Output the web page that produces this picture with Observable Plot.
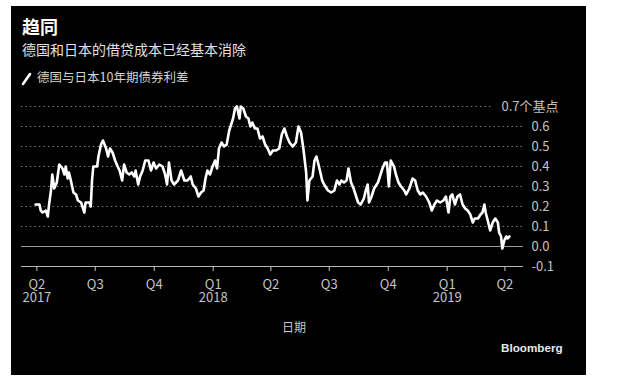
<!DOCTYPE html>
<html><head><meta charset="utf-8">
<script src="https://cdn.jsdelivr.net/npm/d3@7"></script>
<script src="https://cdn.jsdelivr.net/npm/@observablehq/plot@0.6"></script>
<style>
html,body{margin:0;padding:0;background:#fff;width:620px;height:388px;overflow:hidden;font-family:"Noto Sans CJK SC","Noto Sans",sans-serif;}
#panel{position:absolute;left:11px;top:6px;width:575px;height:369px;background:#000;}
.t{position:absolute;white-space:nowrap;line-height:1;}
#title{left:22px;top:17px;font-size:18px;font-weight:700;color:#fff;}
#subtitle{left:22px;top:42px;font-size:14px;color:#e2e2e2;}
#legend{left:37px;top:71px;font-size:12.5px;color:#d4d4d4;}
#slash{position:absolute;left:21px;top:72px;}
#xlabel{left:282px;top:321px;font-size:12px;color:#c8c8c8;}
#brand{left:501px;top:342px;font-family:"Liberation Sans",Arial,sans-serif;font-weight:700;font-size:11.7px;color:#e8e8e8;}
#chart{position:absolute;left:11px;top:96px;}
</style>
</head><body>
<div id="panel"></div>
<div class="t" id="title">趋同</div>
<div class="t" id="subtitle">德国和日本的借贷成本已经基本消除</div>
<svg id="slash" width="12" height="14"><line x1="2" y1="12" x2="9" y2="2" stroke="#fff" stroke-width="2.6" stroke-linecap="round"/></svg>
<div class="t" id="legend">德国与日本10年期债券利差</div>
<div id="chart"></div>
<div class="t" id="xlabel">日期</div>
<div class="t" id="brand">Bloomberg</div>
<script>
const dates = [
"2017-03-30","2017-04-05","2017-04-07","2017-04-10","2017-04-15","2017-04-18","2017-04-20","2017-04-23","2017-04-25","2017-04-28",
"2017-05-02","2017-05-06","2017-05-11","2017-05-14","2017-05-16","2017-05-19","2017-05-21","2017-05-24","2017-05-28","2017-06-01",
"2017-06-04","2017-06-09","2017-06-11","2017-06-14","2017-06-16","2017-06-22","2017-06-24","2017-06-26","2017-06-28","2017-07-04",
"2017-07-06","2017-07-10","2017-07-13","2017-07-18","2017-07-21","2017-07-24","2017-07-28","2017-08-01","2017-08-05","2017-08-08",
"2017-08-12","2017-08-15","2017-08-19","2017-08-23","2017-08-27","2017-08-31","2017-09-02","2017-09-06","2017-09-09","2017-09-13",
"2017-09-17","2017-09-22","2017-09-26","2017-09-30","2017-10-04","2017-10-09","2017-10-14","2017-10-18","2017-10-21","2017-10-24",
"2017-10-28","2017-11-01","2017-11-07","2017-11-12","2017-11-17","2017-11-22","2017-11-27","2017-11-30","2017-12-05","2017-12-09",
"2017-12-13","2017-12-17","2017-12-20","2017-12-23","2017-12-27","2017-12-31","2018-01-04","2018-01-07","2018-01-10","2018-01-14",
"2018-01-18","2018-01-22","2018-01-26","2018-01-29","2018-02-01","2018-02-04","2018-02-07","2018-02-11","2018-02-13","2018-02-17",
"2018-02-21","2018-02-25","2018-02-28","2018-03-03","2018-03-07","2018-03-11","2018-03-15","2018-03-19","2018-03-23","2018-03-27",
"2018-03-31","2018-04-04","2018-04-09","2018-04-14","2018-04-18","2018-04-22","2018-04-26","2018-04-30","2018-05-05","2018-05-10",
"2018-05-14","2018-05-18","2018-05-22","2018-05-26","2018-05-28","2018-05-31","2018-06-05","2018-06-08","2018-06-11","2018-06-15",
"2018-06-20","2018-06-23","2018-06-29","2018-07-04","2018-07-09","2018-07-13","2018-07-17","2018-07-20","2018-07-24","2018-07-28",
"2018-07-31","2018-08-04","2018-08-08","2018-08-12","2018-08-15","2018-08-19","2018-08-24","2018-08-27","2018-08-30","2018-09-01",
"2018-09-05","2018-09-09","2018-09-15","2018-09-19","2018-09-22","2018-09-26","2018-09-29","2018-10-02","2018-10-05","2018-10-10",
"2018-10-13","2018-10-17","2018-10-21","2018-10-26","2018-10-29","2018-11-03","2018-11-08","2018-11-12","2018-11-16","2018-11-20",
"2018-11-24","2018-11-29","2018-12-04","2018-12-08","2018-12-12","2018-12-16","2018-12-21","2018-12-26","2018-12-30","2019-01-03",
"2019-01-06","2019-01-09","2019-01-13","2019-01-17","2019-01-21","2019-01-25","2019-01-29","2019-02-02","2019-02-06","2019-02-10",
"2019-02-13","2019-02-18","2019-02-22","2019-02-25","2019-02-28","2019-03-02","2019-03-06","2019-03-09","2019-03-13","2019-03-17",
"2019-03-21","2019-03-23","2019-03-26","2019-03-28","2019-03-31","2019-04-03","2019-04-05","2019-04-08"
];
const spread = [
0.21,0.21,0.18,0.17,0.18,0.15,0.21,0.28,0.36,0.29,
0.32,0.41,0.39,0.36,0.40,0.34,0.37,0.33,0.27,0.26,
0.23,0.22,0.20,0.17,0.22,0.22,0.20,0.33,0.40,0.40,
0.45,0.51,0.53,0.49,0.45,0.49,0.47,0.43,0.40,0.38,
0.33,0.41,0.37,0.36,0.37,0.35,0.38,0.31,0.35,0.38,
0.43,0.43,0.38,0.42,0.39,0.41,0.40,0.36,0.31,0.42,
0.33,0.31,0.33,0.38,0.33,0.33,0.35,0.31,0.29,0.25,
0.27,0.28,0.34,0.38,0.36,0.40,0.43,0.39,0.49,0.52,
0.50,0.51,0.58,0.61,0.64,0.69,0.70,0.64,0.70,0.69,
0.65,0.64,0.60,0.62,0.59,0.59,0.54,0.55,0.51,0.49,
0.46,0.48,0.48,0.49,0.56,0.59,0.55,0.52,0.50,0.52,
0.60,0.57,0.48,0.37,0.23,0.33,0.35,0.43,0.45,0.40,
0.33,0.31,0.28,0.27,0.28,0.33,0.31,0.33,0.32,0.33,
0.39,0.32,0.29,0.25,0.22,0.21,0.24,0.28,0.31,0.22,
0.25,0.29,0.32,0.36,0.39,0.42,0.42,0.30,0.43,0.40,
0.36,0.32,0.30,0.28,0.26,0.29,0.34,0.33,0.28,0.26,
0.27,0.25,0.22,0.18,0.21,0.23,0.22,0.23,0.25,0.17,
0.25,0.26,0.21,0.25,0.26,0.21,0.19,0.18,0.16,0.12,
0.14,0.14,0.16,0.17,0.21,0.17,0.12,0.08,0.12,0.14,
0.12,0.07,0.05,-0.01,0.03,0.05,0.04,0.05
];
const tickDates = ["2017-04-01","2017-07-01","2017-10-01","2018-01-01","2018-04-01","2018-07-01","2018-10-01","2019-01-01","2019-04-01"];
const tickLabels = ["Q2","Q3","Q4","Q1","Q2","Q3","Q4","Q1","Q2"];
const yearDates = ["2017-04-01","2018-01-01","2019-01-01"];
const yearLabels = ["2017","2018","2019"];
const yTicks = [-0.1, 0.0, 0.1, 0.2, 0.3, 0.4, 0.5, 0.6];
const gridValues = [0.1, 0.2, 0.3, 0.4, 0.5, 0.6];
const topTick = [0.7];
const topLabel = "0.7个基点";
const xDomain = ["2017-03-08", "2019-04-30"];

const series = dates.map((d, i) => ({date: new Date(d), value: spread[i]}));
const tickTimes = tickDates.map(d => new Date(d));
const yearTimes = yearDates.map(d => new Date(d));

const chart = Plot.plot({
  width: 575, height: 260,
  marginLeft: 10, marginRight: 63, marginTop: 10, marginBottom: 90,
  style: {background: "transparent", color: "#c4c4c4", fontFamily: "'Noto Sans CJK SC', sans-serif", fontSize: "13px", overflow: "visible"},
  x: {type: "utc", domain: xDomain.map(d => new Date(d))},
  y: {domain: [-0.1, 0.7]},
  marks: [
    Plot.ruleY(gridValues, {stroke: "#8a8a8a", strokeDasharray: "1.3,3.2", strokeWidth: 1}),
    Plot.ruleY(topTick, {stroke: "#8a8a8a", strokeDasharray: "1.3,3.2", strokeWidth: 1, insetRight: 31}),
    Plot.ruleY([0], {stroke: "#9a9a9a", strokeWidth: 1.2}),
    Plot.ruleY([-0.1], {stroke: "#b4b4b4", strokeWidth: 1.2}),
    Plot.axisX({ticks: tickTimes, tickSize: 5, tickPadding: 8, label: null,
      tickFormat: d => tickLabels[tickTimes.findIndex(t => +t === +d)]}),
    Plot.axisX({ticks: yearTimes, tickSize: 0, tickPadding: 26.5, label: null,
      tickFormat: d => yearLabels[yearTimes.findIndex(t => +t === +d)]}),
    Plot.axisY({anchor: "right", ticks: yTicks, tickSize: 0, tickPadding: 8, label: null, textAnchor: "start",
      tickFormat: d => d.toFixed(1)}),
    Plot.text(topTick, {y: d => d, text: () => topLabel, frameAnchor: "right", textAnchor: "start", dx: -22, fill: "#c4c4c4", fontSize: 13}),
    Plot.line(series, {x: "date", y: "value", stroke: "#fff", strokeWidth: 2.6, strokeLinejoin: "round", strokeLinecap: "round"})
  ]
});
document.getElementById("chart").appendChild(chart);
</script>
</body></html>
